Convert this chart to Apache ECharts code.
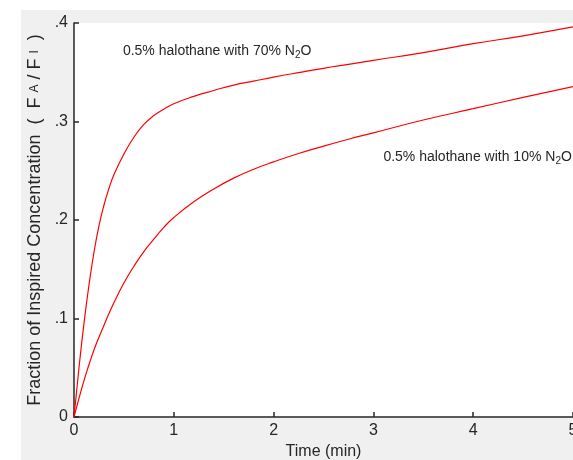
<!DOCTYPE html>
<html><head><meta charset="utf-8">
<script src="https://cdn.jsdelivr.net/npm/echarts@6/dist/echarts.min.js"></script>
<style>html,body{margin:0;padding:0;background:#fff}#c{width:573px;height:460px}</style>
</head><body><div id="c"></div>
<script>
const times = [0, 0.05, 0.1, 0.15, 0.2, 0.25, 0.3, 0.35, 0.4, 0.5, 0.6, 0.7, 0.8, 0.9, 1.0, 1.2, 1.4, 1.6, 1.8, 2.0, 2.25, 2.5, 2.75, 3.0, 3.5, 4.0, 4.5, 5.0];
const n2o70 = [0, 0.050, 0.095, 0.134, 0.167, 0.194, 0.215, 0.232, 0.246, 0.267, 0.284, 0.297, 0.306, 0.3125, 0.318, 0.3255, 0.3315, 0.337, 0.341, 0.345, 0.3496, 0.354, 0.358, 0.362, 0.370, 0.379, 0.387, 0.396];
const n2o10 = [0, 0.019, 0.037, 0.053, 0.068, 0.081, 0.093, 0.105, 0.116, 0.136, 0.153, 0.168, 0.1805, 0.1925, 0.2025, 0.2185, 0.2315, 0.2425, 0.2515, 0.259, 0.2675, 0.275, 0.282, 0.2885, 0.3015, 0.313, 0.3245, 0.3355];
const yTicks = ['0', '.1', '.2', '.3', '.4'];
const label70 = ['0.5% halothane with 70% N', '2', 'O'];
const label10 = ['0.5% halothane with 10% N', '2', 'O'];
const label70At = [0.49, 0.3716];
const label10At = [3.10, 0.264];

const FONT = '"Liberation Sans", Arial, Helvetica, sans-serif';
const INK = '#262626';
const chart = echarts.init(document.getElementById('c'), null, {renderer: 'canvas'});
const richLbl = {
  n: {fontSize: 14, color: INK, fontFamily: FONT},
  sub: {fontSize: 10, color: INK, fontFamily: FONT, padding: [8, 0, 0, 0]}
};
function lbl(parts) { return '{n|' + parts[0] + '}{sub|' + parts[1] + '}{n|' + parts[2] + '}'; }

chart.setOption({
  backgroundColor: '#f0f0f0',
  animation: false,
  graphic: [
    {type: 'rect', shape: {x: 0, y: 0, width: 573, height: 10}, style: {fill: '#fff'}, z: -100, silent: true},
    {type: 'rect', shape: {x: 0, y: 0, width: 21, height: 460}, style: {fill: '#fff'}, z: -100, silent: true}
  ],
  grid: {left: 74, right: 0, top: 23, bottom: 43, show: true, backgroundColor: '#fff', borderWidth: 0,
         containLabel: false, outerBoundsMode: 'none'},
  xAxis: {
    type: 'value', min: 0, max: 5, interval: 1,
    name: 'Time (min)', nameLocation: 'middle', nameGap: 27,
    nameTextStyle: {fontSize: 16, color: INK, fontFamily: FONT},
    axisLine: {show: true, lineStyle: {color: INK, width: 1.5}},
    axisTick: {show: true, inside: true, length: 5, lineStyle: {color: INK, width: 1.5}},
    axisLabel: {fontSize: 16, color: INK, fontFamily: FONT, margin: 6, hideOverlap: false},
    splitLine: {show: false}
  },
  yAxis: {
    type: 'value', min: 0, max: 0.4, interval: 0.1,
    name: 'Fraction of Inspired Concentration  (  F {s|A} / F {s|I}  )',
    nameLocation: 'middle', nameGap: 25, nameRotate: 90,
    nameTextStyle: {fontSize: 18, color: INK, fontFamily: FONT,
      rich: {s: {fontSize: 12, color: INK, fontFamily: FONT}}},
    axisLine: {show: true, lineStyle: {color: INK, width: 1.5}},
    axisTick: {show: true, inside: true, length: 5, lineStyle: {color: INK, width: 1.5}},
    axisLabel: {fontSize: 16, color: INK, fontFamily: FONT, margin: 6,
      formatter: function (v) { return yTicks[Math.round(v * 10)]; }},
    splitLine: {show: false}
  },
  series: [
    {
      type: 'line', name: '70% N2O', smooth: 0.5, showSymbol: false,
      lineStyle: {color: '#ff0000', width: 1.2},
      data: times.map((t, i) => [t, n2o70[i]]),
      markPoint: {
        symbolSize: 0, animation: false,
        label: {show: true, position: 'right', distance: 0, formatter: lbl(label70), rich: richLbl},
        data: [{coord: label70At}]
      }
    },
    {
      type: 'line', name: '10% N2O', smooth: 0.5, showSymbol: false,
      lineStyle: {color: '#ff0000', width: 1.2},
      data: times.map((t, i) => [t, n2o10[i]]),
      markPoint: {
        symbolSize: 0, animation: false,
        label: {show: true, position: 'right', distance: 0, formatter: lbl(label10), rich: richLbl},
        data: [{coord: label10At}]
      }
    }
  ]
});
</script></body></html>
